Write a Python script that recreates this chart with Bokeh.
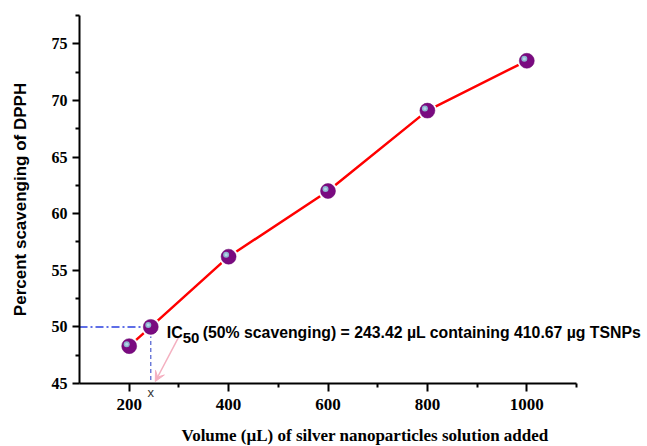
from bokeh.plotting import figure
from bokeh.models import Range1d, FixedTicker, Label, Arrow, VeeHead
from bokeh.embed import file_html
from bokeh.resources import INLINE

# ---- data ----
volume = [200, 243.42, 400, 600, 800, 1000]
scavenging = [48.3, 50.0, 56.2, 62.0, 69.1, 73.5]
x_major = [200, 400, 600, 800, 1000]
x_minor = [300, 500, 700, 900, 1100]
y_major = [45, 50, 55, 60, 65, 70, 75]
y_minor = [47.5, 52.5, 57.5, 62.5, 67.5, 72.5, 77.5]
ic50_volume = 243.42
ic50_level = 50.0
x_limits = (100, 1100)
y_limits = (45, 77.5)

W, H = 647, 446
LEFT, TOP, BOTTOM = 76, 15, 63
AXIS_W, FH = 497, 368                  # drawn x-axis length, frame height
sx = (x_limits[1] - x_limits[0]) / AXIS_W   # data units per pixel
sy = (y_limits[1] - y_limits[0]) / FH
FW = W - LEFT                           # frame runs to the right edge so the note fits
x_end = x_limits[0] + FW * sx

p = figure(frame_width=FW, frame_height=FH,
           min_border_left=LEFT, min_border_right=0, min_border_top=TOP, min_border_bottom=BOTTOM,
           x_range=Range1d(x_limits[0], x_end), y_range=Range1d(*y_limits),
           output_backend="svg", toolbar_location=None,
           background_fill_color="white", border_fill_color="white")
p.outline_line_color = None
p.grid.visible = False

# axes
p.xaxis.bounds = x_limits
p.xaxis.ticker = FixedTicker(ticks=x_major, minor_ticks=x_minor)
p.yaxis.ticker = FixedTicker(ticks=y_major, minor_ticks=y_minor)
for ax in (p.xaxis[0], p.yaxis[0]):
    ax.axis_line_width = 2
    ax.axis_line_color = "black"
    ax.major_tick_line_width = 2
    ax.minor_tick_line_width = 2
    ax.major_tick_in = 0
    ax.minor_tick_in = 0
    ax.major_label_text_font = "Liberation Serif"
    ax.major_label_text_font_style = "bold"
    ax.major_label_text_color = "black"
    ax.axis_label_text_color = "black"
    ax.axis_label_text_font_style = "bold"

p.xaxis.major_tick_out = 8
p.xaxis.minor_tick_out = 4
p.yaxis.major_tick_out = 7
p.yaxis.minor_tick_out = 4
p.xaxis.major_label_text_font_size = "17px"
p.yaxis.major_label_text_font_size = "16px"
p.xaxis.major_label_standoff = 7
p.yaxis.major_label_standoff = 5

p.xaxis.axis_label = "Volume (\u00b5L) of silver nanoparticles solution added"
p.xaxis.axis_label_text_font = "Liberation Serif"
p.xaxis.axis_label_text_font_size = "17px"
p.xaxis.axis_label_standoff = 13

p.yaxis.axis_label = "Percent scavenging of DPPH"
p.yaxis.axis_label_text_font = "Liberation Sans"
p.yaxis.axis_label_text_font_size = "17px"
p.yaxis.axis_label_standoff = 19

# IC50 guide lines
p.line([x_limits[0], ic50_volume], [ic50_level, ic50_level],
       line_color="#2A3FE0", line_width=1.5, line_dash="8 3 2 3")
p.line([ic50_volume, ic50_volume], [ic50_level, y_limits[0]],
       line_color="#4A5CD0", line_width=1.2, line_dash="4 3")

# data line and spheres
p.line(volume, scavenging, line_color="red", line_width=2.5)
p.scatter(volume, scavenging, size=19, fill_color="white", line_color=None)
p.scatter(volume, scavenging, size=15, fill_color="#7A0A80", line_color="#6A0870", line_width=0.5)
hx = [v - 2.5 * sx for v in volume]
hy = [s + 2.0 * sy for s in scavenging]
p.scatter(hx, hy, size=6, fill_color="#8DB5D0", line_color=None)
p.scatter(hx, hy, size=3, fill_color="#B5D5E6", line_color=None)

# annotation arrow
p.add_layout(Arrow(x_start=ic50_volume + 28 * sx, y_start=ic50_level - 10 * sy,
                   x_end=ic50_volume + 4.5 * sx, y_end=y_limits[0] + 2 * sy,
                   line_color="#F4B0C0", line_width=1.5,
                   end=VeeHead(size=10, fill_color="#F4B0C0", line_color="#F4B0C0")))

common = dict(text_font="Liberation Sans", text_font_style="bold", text_color="black",
              text_baseline="alphabetic")
p.add_layout(Label(x=ic50_volume, y=ic50_level, x_offset=16, y_offset=-6,
                   text="IC", text_font_size="16px", **common))
p.add_layout(Label(x=ic50_volume, y=ic50_level, x_offset=32, y_offset=-11,
                   text="50", text_font_size="15px", **common))
p.add_layout(Label(x=ic50_volume, y=ic50_level, x_offset=52, y_offset=-6,
                   text="(50% scavenging) = 243.42 \u00b5L containing 410.67 \u00b5g TSNPs",
                   text_font_size="15.8px", **common))
# the "x" mark under the axis lives in a side panel so it is not clipped by the frame
p.add_layout(Label(x=ic50_volume, y=y_limits[0], y_offset=-9, text="x",
                   text_align="center", text_baseline="middle",
                   text_font="Liberation Sans", text_font_size="13px", text_color="#333333"),
             "left")

open("out.html", "w").write(file_html(p, INLINE))
